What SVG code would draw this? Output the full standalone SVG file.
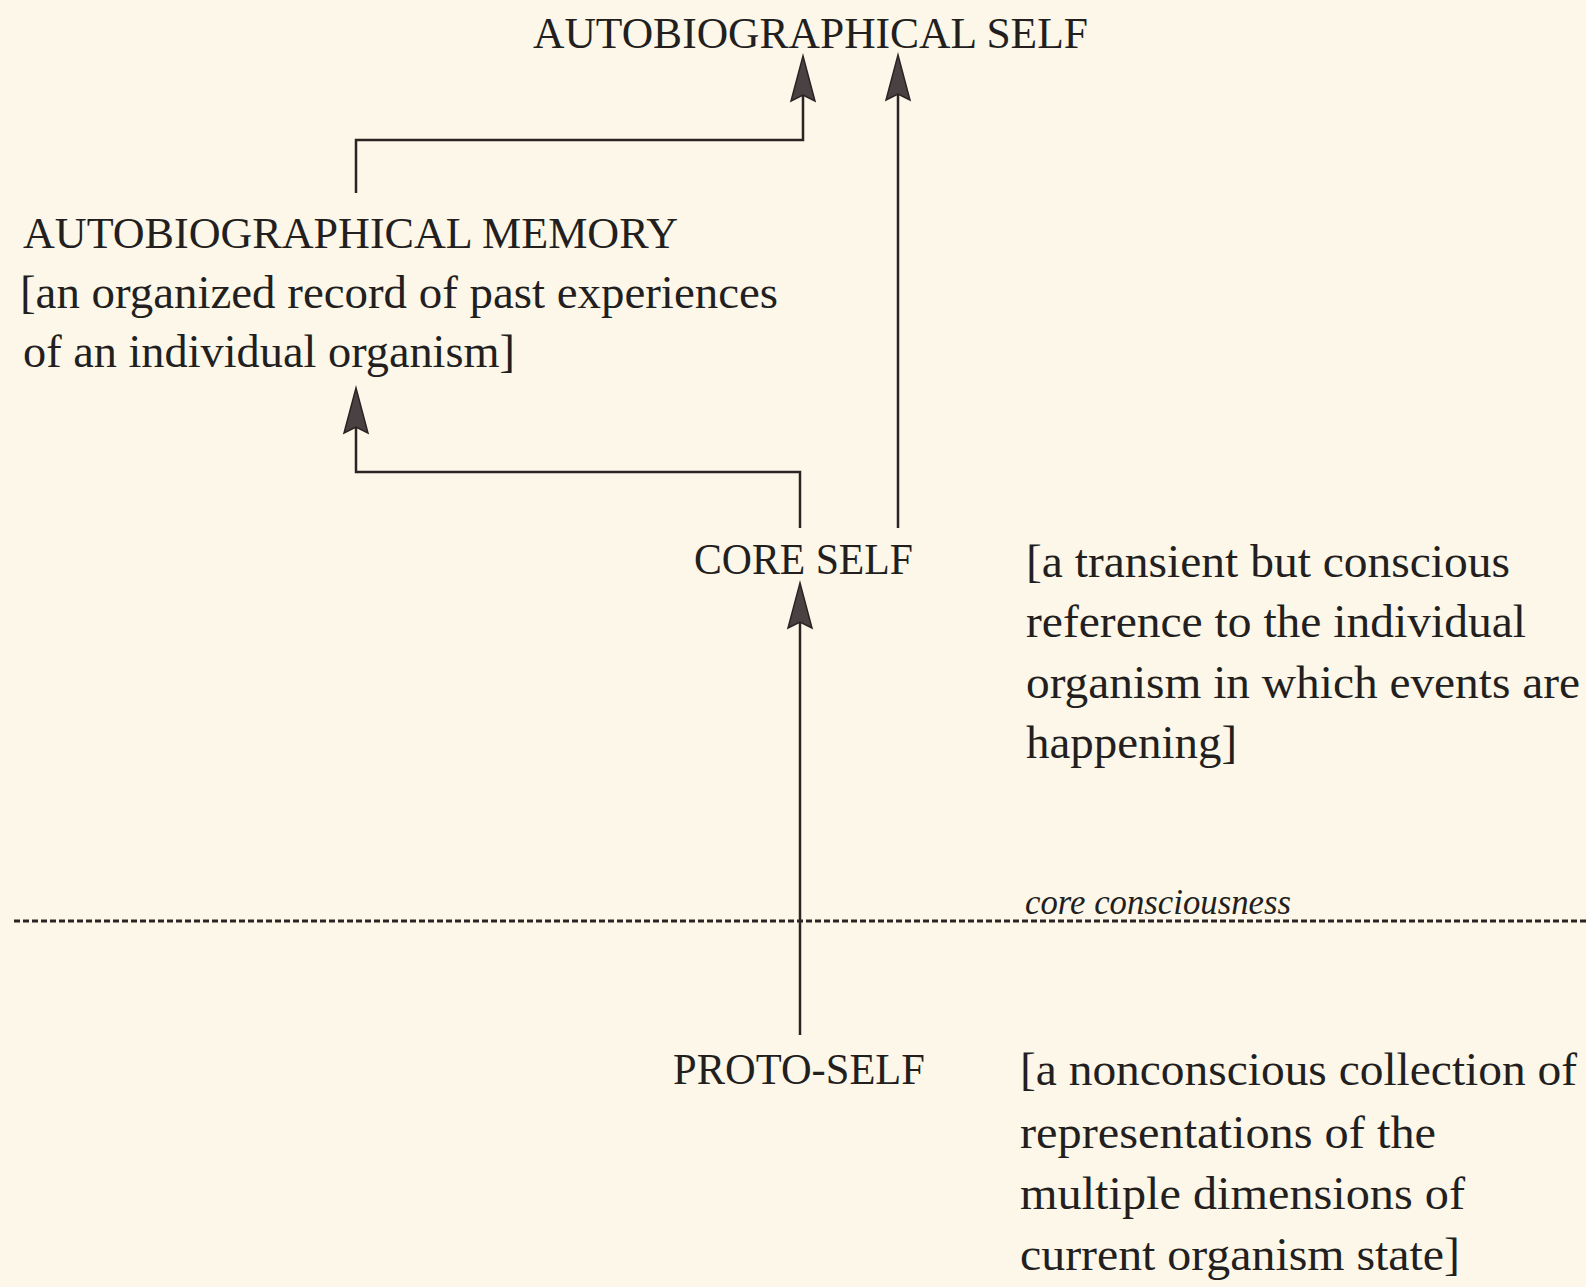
<svg xmlns="http://www.w3.org/2000/svg" width="1586" height="1287" viewBox="0 0 1586 1287">
  <defs>
    <style>
      .t { font-family: "Liberation Serif", "Times New Roman", serif; fill: #231f1f; }
      .cap { font-size: 44px; }
      .body { font-size: 46px; }
      .it { font-size: 36px; font-style: italic; }
      .conn { fill: none; stroke: #2a2424; stroke-width: 2.5; }
      .dash { fill: none; stroke: #2a2424; stroke-width: 2.8; stroke-dasharray: 6 3; }
    </style>
    <marker id="ah" markerUnits="userSpaceOnUse" markerWidth="52" markerHeight="32" viewBox="-2 -16 52 32" refX="6" refY="0" orient="auto">
      <path d="M45,0 L0,-12 L6,0 L0,12 Z" fill="#4a4242" stroke="#2a2424" stroke-width="1.5" stroke-linejoin="miter"/>
    </marker>
  </defs>

  <rect x="0" y="0" width="1586" height="1287" fill="#fcf7e8"/>

  <g id="connectors">
    <path class="conn" d="M356,193 V140 H803 V95" marker-end="url(#ah)"/>
    <path class="conn" d="M898,528 V94" marker-end="url(#ah)"/>
    <path class="conn" d="M800,528 V472 H356 V427" marker-end="url(#ah)"/>
    <path class="conn" d="M800,1035 V622" marker-end="url(#ah)"/>
    <line class="dash" x1="14" y1="921" x2="1586" y2="921"/>
  </g>

  <g id="autobiographical-self">
    <text class="t cap" x="533" y="48" textLength="555" lengthAdjust="spacingAndGlyphs">AUTOBIOGRAPHICAL SELF</text>
  </g>

  <g id="autobiographical-memory">
    <text class="t cap" x="23" y="248" textLength="655" lengthAdjust="spacingAndGlyphs">AUTOBIOGRAPHICAL MEMORY</text>
    <text class="t body" x="20" y="308" textLength="758" lengthAdjust="spacingAndGlyphs">[an organized record of past experiences</text>
    <text class="t body" x="23" y="367" textLength="492" lengthAdjust="spacingAndGlyphs">of an individual organism]</text>
  </g>

  <g id="core-self">
    <text class="t cap" x="694" y="574" textLength="219" lengthAdjust="spacingAndGlyphs">CORE SELF</text>
    <text class="t body" x="1026" y="577" textLength="484" lengthAdjust="spacingAndGlyphs">[a transient but conscious</text>
    <text class="t body" x="1026" y="637" textLength="500" lengthAdjust="spacingAndGlyphs">reference to the individual</text>
    <text class="t body" x="1026" y="698" textLength="554" lengthAdjust="spacingAndGlyphs">organism in which events are</text>
    <text class="t body" x="1026" y="758" textLength="211" lengthAdjust="spacingAndGlyphs">happening]</text>
  </g>

  <g id="core-consciousness">
    <text class="t it" x="1025" y="914" textLength="266" lengthAdjust="spacingAndGlyphs">core consciousness</text>
  </g>

  <g id="proto-self">
    <text class="t cap" x="673" y="1084" textLength="252" lengthAdjust="spacingAndGlyphs">PROTO-SELF</text>
    <text class="t body" x="1020" y="1085" textLength="557" lengthAdjust="spacingAndGlyphs">[a nonconscious collection of</text>
    <text class="t body" x="1020" y="1148" textLength="416" lengthAdjust="spacingAndGlyphs">representations of the</text>
    <text class="t body" x="1020" y="1209" textLength="445" lengthAdjust="spacingAndGlyphs">multiple dimensions of</text>
    <text class="t body" x="1020" y="1270" textLength="440" lengthAdjust="spacingAndGlyphs">current organism state]</text>
  </g>
</svg>
